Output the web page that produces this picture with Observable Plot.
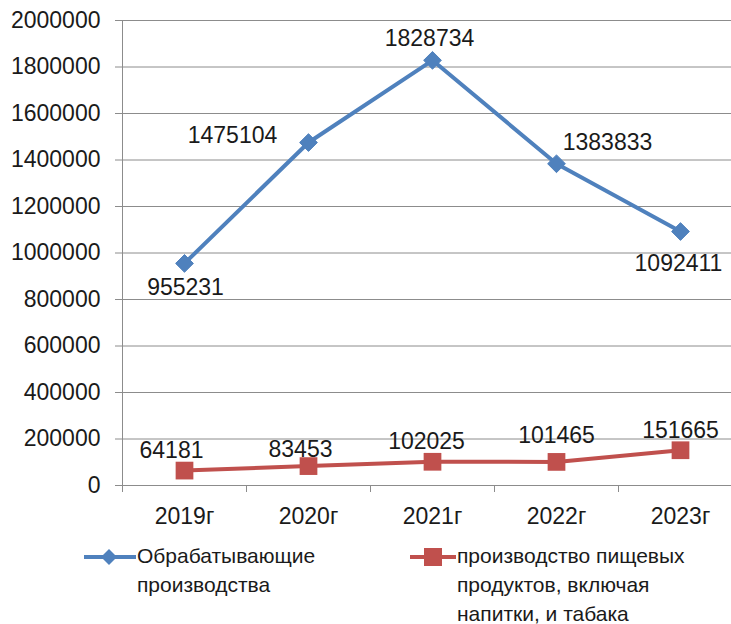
<!DOCTYPE html>
<html>
<head>
<meta charset="utf-8">
<script src="https://cdn.jsdelivr.net/npm/d3@7"></script>
<script src="https://cdn.jsdelivr.net/npm/@observablehq/plot@0.6"></script>
<style>
  html, body { margin: 0; padding: 0; background: #fff; }
  #wrap { position: relative; width: 731px; height: 624px; overflow: hidden; font-family: "Liberation Sans", Arial, sans-serif; color: #1a1a1a; }
  #chart { position: absolute; left: 0; top: 0; width: 742px; }
  #chart svg { max-width: none !important; }
  .leg { position: absolute; font-size: 21px; line-height: 29px; color: #1a1a1a; }
  .sw { position: absolute; }
</style>
</head>
<body>
<div id="wrap">
  <div id="chart"></div>
  <svg class="sw" style="left:82px;top:545px" width="56" height="24">
    <line x1="2" y1="12" x2="54" y2="12" stroke="#4F81BD" stroke-width="4"/>
    <path d="M27,4 L35,12 L27,20 L19,12 Z" fill="#4F81BD"/>
  </svg>
  <div class="leg" id="leg1" style="left:137px;top:541px"></div>
  <svg class="sw" style="left:408px;top:545px" width="50" height="24">
    <line x1="2" y1="12" x2="48" y2="12" stroke="#C0504D" stroke-width="4"/>
    <rect x="16" y="3" width="18" height="18" fill="#C0504D"/>
  </svg>
  <div class="leg" id="leg2" style="left:457px;top:541px"></div>
</div>
<script>
const categories = ["2019г", "2020г", "2021г", "2022г", "2023г"];
const seriesNames = ["Обрабатывающие\nпроизводства", "производство пищевых\nпродуктов, включая\nнапитки, и табака"];
const manufacturing = [955231, 1475104, 1828734, 1383833, 1092411];
const food = [64181, 83453, 102025, 101465, 151665];
const yTicks = [0, 200000, 400000, 600000, 800000, 1000000, 1200000, 1400000, 1600000, 1800000, 2000000];

// label placement offsets (style, not data)
const manLabelOffset = [[1, 24], [-76, -7], [-3, -22], [51, -21], [-2, 32]];
const foodLabelOffset = [[-13, -20], [-8, -16], [-6, -20], [0, -26], [0, -20]];

const blue = "#4F81BD", red = "#C0504D";
const man = manufacturing.map((v, i) => ({i, v, dx: manLabelOffset[i][0], dy: manLabelOffset[i][1]}));
const fd = food.map((v, i) => ({i, v, dx: foodLabelOffset[i][0], dy: foodLabelOffset[i][1]}));
const boundaries = d3.range(categories.length + 1).map(k => k - 0.5);

const textMarks = (data) => data.map(d =>
  Plot.text([d], {x: "i", y: "v", text: d => String(d.v), dx: d.dx, dy: d.dy, fill: "#1a1a1a", fontSize: 23})
);

const chart = Plot.plot({
  width: 742,
  height: 530,
  marginLeft: 122,
  marginRight: 0,
  marginTop: 20,
  marginBottom: 45,
  style: {fontFamily: "Liberation Sans, Arial, sans-serif", fontSize: "23px", color: "#1a1a1a", background: "transparent", maxWidth: "none"},
  x: {type: "linear", domain: [-0.5, categories.length - 0.5]},
  y: {domain: [0, 2000000]},
  marks: [
    Plot.gridY(yTicks.filter(t => t > 0), {stroke: "#8c8c8c", strokeOpacity: 1, strokeWidth: 1}),
    Plot.ruleY([0], {stroke: "#8c8c8c", strokeWidth: 1}),
    Plot.ruleX([-0.5], {stroke: "#8c8c8c", strokeWidth: 1}),
    Plot.axisY({ticks: yTicks, tickSize: 7, tickPadding: 15, tickFormat: d => String(d), label: null, stroke: "#8c8c8c", fontSize: 23, fill: "#1a1a1a"}),
    Plot.axisX({ticks: boundaries, tickSize: 7, tickFormat: () => "", label: null, stroke: "#8c8c8c"}),
    Plot.axisX({ticks: d3.range(categories.length), tickSize: 0, tickPadding: 22, tickFormat: i => categories[i], label: null, fontSize: 23, fill: "#1a1a1a"}),
    Plot.line(man, {x: "i", y: "v", stroke: blue, strokeWidth: 4}),
    Plot.dot(man, {x: "i", y: "v", symbol: "diamond2", r: 8, fill: blue, stroke: blue, strokeWidth: 1}),
    Plot.line(fd, {x: "i", y: "v", stroke: red, strokeWidth: 4}),
    Plot.dot(fd, {x: "i", y: "v", symbol: "square", r: 10, fill: red}),
    ...textMarks(man),
    ...textMarks(fd)
  ]
});
document.getElementById("chart").appendChild(chart);
document.getElementById("leg1").innerHTML = seriesNames[0].split("\n").join("<br>");
document.getElementById("leg2").innerHTML = seriesNames[1].split("\n").join("<br>");
</script>
</body>
</html>
